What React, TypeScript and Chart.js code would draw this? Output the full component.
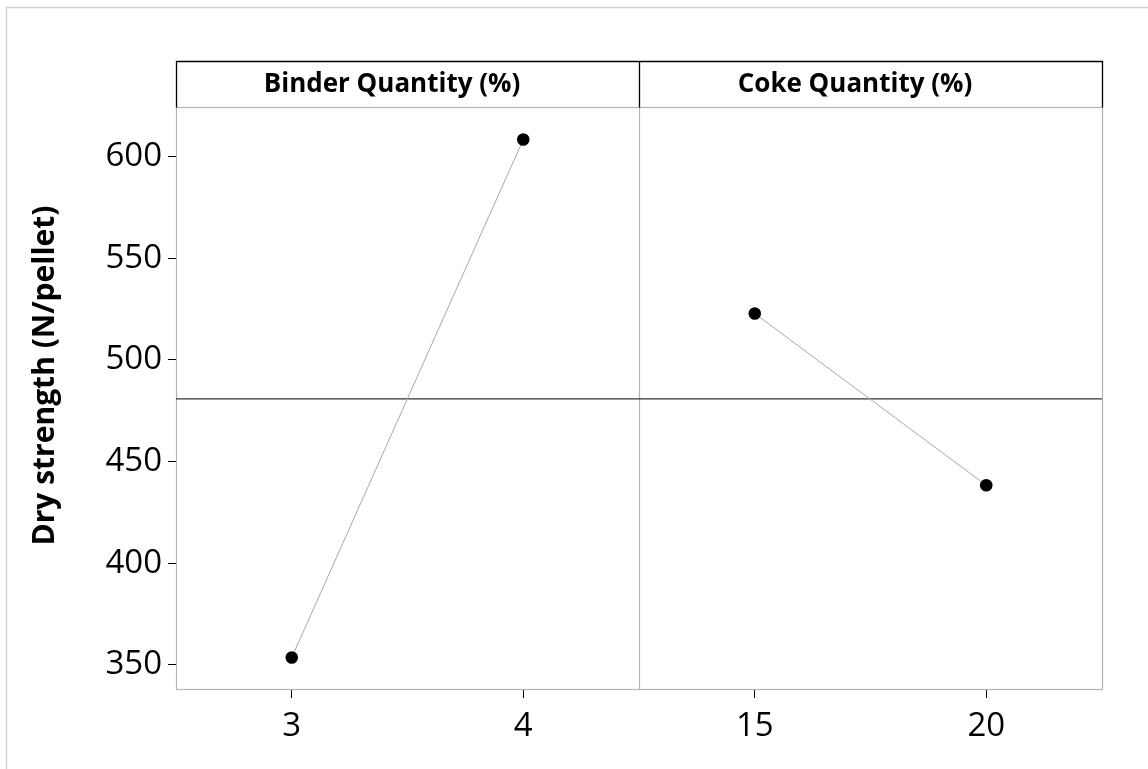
import React, { useEffect, useRef } from "react";
import { Chart, registerables } from "chart.js";

Chart.register(...registerables);

// Main effects of two factors on dry strength
const panelTitles = ["Binder Quantity (%)", "Coke Quantity (%)"];
const binderLevels = ["3", "4"];
const binderMeans = [353.6, 608.4];
const cokeLevels = ["15", "20"];
const cokeMeans = [522.8, 438.3];
const yTicks = [350, 400, 450, 500, 550, 600];
const yTitle = "Dry strength (N/pellet)";

const FONT = "'Open Sans', 'Noto Sans', 'DejaVu Sans', sans-serif";
const W = 1148;
const H = 769;

// each panel spans two units on the shared x scale; levels sit at +0.5 and +1.5
const levelLabels = [...binderLevels, ...cokeLevels];
const levelPositions = [0.5, 1.5, 2.5, 3.5];
const allMeans = [...binderMeans, ...cokeMeans];
const grandMean = allMeans.reduce((a, b) => a + b, 0) / allMeans.length;

const panelFrame = {
  id: "panelFrame",
  beforeDraw(chart: any) {
    const ctx = chart.ctx;
    ctx.save();
    ctx.fillStyle = "#ffffff";
    ctx.fillRect(0, 0, W, H);
    // page frame
    ctx.strokeStyle = "#d3d3d3";
    ctx.lineWidth = 1.5;
    ctx.beginPath();
    ctx.moveTo(6.5, H);
    ctx.lineTo(6.5, 7.5);
    ctx.lineTo(W, 7.5);
    ctx.stroke();
    ctx.restore();
  },
  beforeDatasetsDraw(chart: any) {
    const ctx = chart.ctx;
    const a = chart.chartArea;
    const xs = chart.scales.x;
    const split = Math.round(xs.getPixelForValue(2)) + 0.5;
    const left = Math.round(a.left) + 0.5;
    const right = Math.round(a.right) + 0.5;
    const top = Math.round(a.top) + 0.5;
    const bottom = Math.round(a.bottom) + 0.5;
    const headTop = 61.5;
    ctx.save();
    // plot area border and panel divider
    ctx.strokeStyle = "#b4b4b4";
    ctx.lineWidth = 1.2;
    ctx.strokeRect(left, top, right - left, bottom - top);
    ctx.beginPath();
    ctx.moveTo(split, top);
    ctx.lineTo(split, bottom);
    ctx.stroke();
    // panel headers
    ctx.strokeStyle = "#000000";
    ctx.lineWidth = 1.3;
    ctx.beginPath();
    ctx.moveTo(left, top);
    ctx.lineTo(left, headTop);
    ctx.lineTo(right, headTop);
    ctx.lineTo(right, top);
    ctx.moveTo(split, headTop);
    ctx.lineTo(split, top);
    ctx.stroke();
    ctx.fillStyle = "#000000";
    ctx.font = `bold 26px ${FONT}`;
    ctx.textAlign = "center";
    ctx.textBaseline = "alphabetic";
    const centers = [(left + split) / 2 - 16, (split + right) / 2 - 16];
    panelTitles.forEach((t, i) => ctx.fillText(t, centers[i], 92));
    // y axis title
    ctx.translate(54, (headTop + bottom) / 2);
    ctx.rotate(-Math.PI / 2);
    ctx.font = `bold 30px ${FONT}`;
    ctx.fillText(yTitle, 0, 0);
    ctx.restore();
  },
};

export default function App() {
  const ref = useRef<HTMLCanvasElement | null>(null);

  useEffect(() => {
    if (!ref.current) return;
    const effectStyle = {
      borderColor: "#a8a8a8",
      borderWidth: 1,
      pointRadius: 6.3,
      pointHoverRadius: 6.3,
      pointBackgroundColor: "#000000",
      pointBorderColor: "#000000",
      pointBorderWidth: 0,
      showLine: true,
      tension: 0,
      fill: false,
    };
    const chart = new Chart(ref.current, {
      type: "scatter",
      data: {
        datasets: [
          {
            label: "mean",
            data: [
              { x: 0, y: grandMean },
              { x: 4, y: grandMean },
            ],
            borderColor: "#333333",
            borderWidth: 1.3,
            pointRadius: 0,
            pointHoverRadius: 0,
            showLine: true,
            order: 3,
          },
          {
            label: panelTitles[0],
            data: binderMeans.map((v, i) => ({ x: levelPositions[i], y: v })),
            ...effectStyle,
            order: 1,
          },
          {
            label: panelTitles[1],
            data: cokeMeans.map((v, i) => ({ x: levelPositions[i + 2], y: v })),
            ...effectStyle,
            order: 2,
          },
        ],
      },
      options: {
        responsive: false,
        animation: false,
        events: [],
        layout: { padding: { top: 107, right: 46, bottom: 0, left: 0 } },
        plugins: {
          legend: { display: false },
          tooltip: { enabled: false },
          title: { display: false },
        },
        scales: {
          x: {
            type: "linear",
            min: 0,
            max: 4,
            afterFit(scale: any) {
              scale.height = 80;
            },
            afterBuildTicks(scale: any) {
              scale.ticks = levelPositions.map((v) => ({ value: v }));
            },
            border: { display: false },
            grid: {
              display: true,
              drawOnChartArea: false,
              drawTicks: true,
              tickLength: 9,
              color: "#000000",
              lineWidth: 1,
            },
            ticks: {
              padding: 9,
              color: "#000000",
              font: { family: FONT, size: 33 },
              maxRotation: 0,
              autoSkip: false,
              callback: (_v: any, i: number) => levelLabels[i],
            },
          },
          y: {
            type: "linear",
            min: 338.1,
            max: 624.4,
            afterFit(scale: any) {
              scale.width = 176;
            },
            afterBuildTicks(scale: any) {
              scale.ticks = yTicks.map((v) => ({ value: v }));
            },
            border: { display: false },
            grid: {
              display: true,
              drawOnChartArea: false,
              drawTicks: true,
              tickLength: 8,
              color: "#000000",
              lineWidth: 1,
            },
            ticks: {
              padding: 6,
              color: "#000000",
              font: { family: FONT, size: 33 },
              autoSkip: false,
              callback: (v: any) => String(v),
            },
          },
        },
      },
      plugins: [panelFrame],
    } as any);
    return () => chart.destroy();
  }, []);

  return (
    <div style={{ position: "fixed", left: 0, top: 0, width: W, height: H, background: "#fff" }}>
      <canvas ref={ref} width={W} height={H} style={{ display: "block", width: W, height: H }} />
    </div>
  );
}
